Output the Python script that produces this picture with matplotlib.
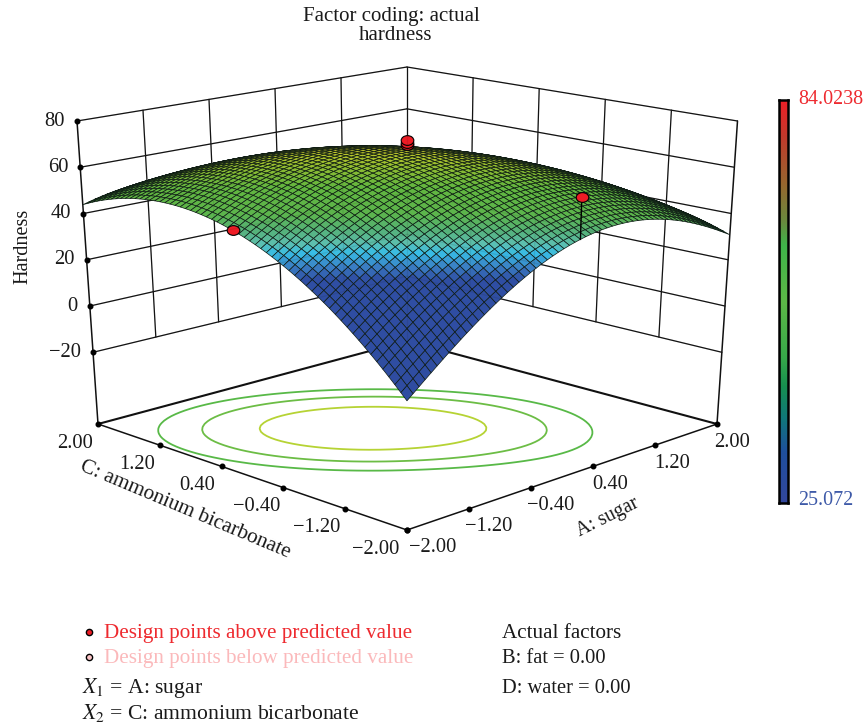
import numpy as np
import matplotlib
matplotlib.use("Agg")
import matplotlib.pyplot as plt
from matplotlib.colors import LinearSegmentedColormap, Normalize
from matplotlib.markers import MarkerStyle
from matplotlib.transforms import Affine2D
from numpy.polynomial import polynomial as npoly

plt.rcParams['font.family'] = ['Liberation Serif', 'DejaVu Serif']
plt.rcParams['mathtext.fontset'] = 'stix'

# ---------- values ----------
factor_ticks = [-2.0, -1.2, -0.4, 0.4, 1.2, 2.0]
factor_tick_labels = ['\u22122.00', '\u22121.20', '\u22120.40', '0.40', '1.20', '2.00']
z_ticks = [-20, 0, 20, 40, 60, 80]
z_tick_labels = ['\u221220', '0', '20', '40', '60', '80']
z_floor = -51
z_top = 80

# hardness read at A (rows) and C (columns) = -2, -1, 0, 1, 2
read_levels = [-2, -1, 0, 1, 2]
read_heights = [
    [0.1, 31.0, 48.6, 53.1, 44.3],
    [28.5, 52.8, 64.7, 63.3, 48.8],
    [45.3, 61.6, 67.5, 60.4, 40.0],
    [45.8, 57.1, 57.3, 44.2, 18.1],
    [31.9, 39.5, 33.8, 15.0, -17.1],
]
contour_levels = [54.1, 59.2, 64.2]
contour_colors = ['#58b947', '#6cbd45', '#b6d334']

design_A = [-2.0, 0.0, 0.0, 0.0, 0.0]
design_C = [0.0, 0.0, 0.0, 0.0, -2.0]
design_hardness = [48.9, 69.0, 70.0, 71.0, 62.0]

# surface colour bands, by height on the page (pixels from the top)
band_y = [140, 150, 168, 190, 218, 236, 248, 258, 272, 285, 540]
band_colors = ['#dcd42a', '#cccb2a', '#93bc30', '#62b63f', '#5cb54c', '#55b27c', '#5dbfae',
               '#38bde6', '#3a7fc4', '#2f4ea3', '#2e4a9e']
bar_stops = [0, .125, .21, .29, .36, .5, .64, .70, .79, .91, 1]
bar_colors = ['#33479c', '#1f4f9e', '#10787a', '#179050', '#37a94a', '#5db947',
              '#3fb54a', '#6a8a3e', '#96682f', '#c23a2c', '#ee2027']
bar_max, bar_min = '84.0238', '25.072'

# where known box points sit on the page: (A, C, z) -> (x px, y px)
box_world = [(-2, 2, -51), (-2, -2, -51), (2, -2, -51), (2, 2, -51),
             (-2, 2, 80), (2, 2, 80), (2, -2, 80), (-2, 2, -20), (2, -2, -20),
             (2, 2, 60), (-2, 2, 40), (-2, 2, 0), (2, -2, 40)]
box_page = [(98, 424), (407, 530), (717, 424), (407, 341),
            (77, 121), (407, 67), (737.5, 121), (93, 352), (721, 352),
            (407, 109), (83, 213), (89, 306), (731, 213)]
floor_left, floor_front, floor_right, floor_back = [np.array(p, float) for p in box_page[:4]]
top_left, top_back, top_right = [np.array(p, float) for p in box_page[4:7]]

# ---------- camera for the surface ----------
rows = []
for (X, Y, Z_), (u, v) in zip(box_world, box_page):
    v = 725 - v
    rows.append([X, Y, Z_, 1, 0, 0, 0, 0, -u * X, -u * Y, -u * Z_, -u])
    rows.append([0, 0, 0, 0, X, Y, Z_, 1, -v * X, -v * Y, -v * Z_, -v])
P = np.linalg.svd(np.asarray(rows, float))[2][-1].reshape(3, 4)
P = P / P[2, 3]


def page(x, y, z):
    h = np.tensordot(P, np.stack([x, y, z, np.ones_like(x)], axis=0), axes=(1, 0))
    return h[0] / h[2], h[1] / h[2]


fig = plt.figure(figsize=(8.65, 7.25), dpi=100)

# page-pixel axes below and above the surface: the box ticks are evenly spaced on the page
bg = fig.add_axes([0, 0, 1, 1], zorder=0)
fg = fig.add_axes([0, 0, 1, 1], zorder=2)
for a_ in (bg, fg):
    a_.set_xlim(0, 865)
    a_.set_ylim(725, 0)
    a_.set_axis_off()

ax = fig.add_axes([0, (725 - 865) / 2 / 725, 1, 865 / 725], projection='3d',
                  computed_zorder=False, zorder=1)
ax.set_axis_off()
ax.patch.set_visible(False)
ax.apply_aspect()
inv = ax.transData.inverted()
o = inv.transform((0, 0))
e = inv.transform((1, 1))
sx, sy = e - o
M = np.vstack([sx * P[0] + o[0] * P[2], sy * P[1] + o[1] * P[2], [0, 0, 0, -1], P[2]])
ax.get_proj = lambda: M
ax.M = M

# smooth surface mesh passing through the read heights
gA, gC = np.meshgrid(read_levels, read_levels, indexing='ij')
vand = npoly.polyvander2d(gA.ravel().astype(float), gC.ravel().astype(float), [4, 4])
coef = np.linalg.solve(vand, np.asarray(read_heights, float).ravel()).reshape(5, 5)
mesh = np.linspace(-2, 2, 61)
A, C = np.meshgrid(mesh, mesh, indexing='ij')
Z = npoly.polyval2d(A, C, coef)

_, py = page(A, C, Z)
s_norm = Normalize(band_y[0], band_y[-1])
s_cmap = LinearSegmentedColormap.from_list(
    's', [(s_norm(v), c) for v, c in zip(band_y, band_colors)], N=1024)
faces = s_cmap(s_norm(725 - py))


# ---------- box on the page ----------
def lerp(p, q, f):
    return p + (q - p) * f


def frac(t):
    return (t + 2) / 4


def zfrac(z):
    return (z - z_floor) / (z_top - z_floor)


def left_wall(a, z):
    return lerp(lerp(floor_left, floor_back, frac(a)), lerp(top_left, top_back, frac(a)), zfrac(z))


def right_wall(c, z):
    return lerp(lerp(floor_right, floor_back, frac(c)), lerp(top_right, top_back, frac(c)), zfrac(z))


def seg(axes, p, q, **kw):
    axes.plot([p[0], q[0]], [p[1], q[1]], solid_capstyle='round', **kw)


LC = '#111111'
for axes, kw in ((bg, dict(color=LC, lw=0.9)), (fg, dict(color='#222222', lw=0.9, alpha=0.12))):
    for t in factor_ticks[1:-1]:
        seg(axes, left_wall(t, -20), left_wall(t, z_top), **kw)
        seg(axes, right_wall(t, -20), right_wall(t, z_top), **kw)
    for z in z_ticks:
        seg(axes, left_wall(-2, z), left_wall(2, z), **kw)
        seg(axes, right_wall(-2, z), right_wall(2, z), **kw)
    seg(axes, floor_back, top_back, **kw)
seg(bg, floor_left, top_left, color=LC, lw=1.1)
seg(bg, floor_right, top_right, color=LC, lw=1.1)
seg(bg, floor_left, floor_back, color=LC, lw=1.5)
seg(bg, floor_right, floor_back, color=LC, lw=1.5)
seg(bg, floor_left, floor_front, color=LC, lw=1.1)
seg(bg, floor_right, floor_front, color=LC, lw=1.1)

ax.contour(A, C, Z, levels=contour_levels, zdir='z', offset=z_floor,
           colors=contour_colors, linewidths=1.3, zorder=2)

ax.plot_surface(A, C, Z, rstride=1, cstride=1, facecolors=faces, shade=False,
                edgecolor='#0d1a14', linewidth=0.5, antialiased=True, zorder=3)

# stems and design points
oval = MarkerStyle('o', transform=Affine2D().scale(1.3, 1.0))
for a, c, h in zip(design_A, design_C, design_hardness):
    base = float(npoly.polyval2d(a, c, coef))
    ax.plot([a, a], [c, c], [base, h], color='black', lw=1.0, zorder=4)
    ax.plot([a], [c], [h], ls='', marker=oval, ms=7, mfc='#ee1c25', mec='black',
            mew=0.8, zorder=5)

# tick dots and labels
tick_kw = dict(textcoords='offset pixels', fontsize=14.8, color='#1a1a1a', annotation_clip=False,
               va='center')
C_label_dx = [-8, -5, -3, -6, -5, -5]
A_label_dx = [2, -4, -4, -1, -1, -3]
for t, lab, cdx, adx in zip(factor_ticks, factor_tick_labels, C_label_dx, A_label_dx):
    pc = lerp(floor_front, floor_left, frac(t))
    pa = lerp(floor_front, floor_right, frac(t))
    bg.plot(*pc, marker='o', ms=3.3, color='black')
    bg.plot(*pa, marker='o', ms=3.3, color='black')
    bg.annotate(lab, pc, xytext=(cdx, -19), ha='right', **tick_kw)
    bg.annotate(lab, pa, xytext=(adx, -18), ha='left', **tick_kw)
for z, lab in zip(z_ticks, z_tick_labels):
    p = left_wall(-2, z)
    bg.plot(*p, marker='o', ms=3.3, color='black')
    bg.annotate(lab, p, xytext=(-12, 0), ha='right', **tick_kw)


def label(x, y, s, size=15.2, color='#1a1a1a', ha='left', rot=0, **kw):
    fig.text(x / 865, 1 - y / 725, s, fontsize=size, color=color, ha=ha, va='center',
             rotation=rot, rotation_mode='anchor', **kw)


label(391, 16.5, 'Factor coding: actual', size=15, ha='center')
label(396, 35, 'hardness', size=15, ha='center')
label(23, 246, 'Hardness', size=14.6, ha='center', rot=90)
label(185, 510, 'C: ammonium bicarbonate', size=15.3, ha='center', rot=-22.8)
label(608, 517, 'A: sugar', size=14.1, ha='center', rot=26.6)

label(104, 633.5, 'Design points above predicted value', color='#ee2a2f')
label(104, 659, 'Design points below predicted value', color='#fbb9bb')
label(82, 688, r'$X_1$ = A: sugar', size=15.6)
label(82, 713.5, r'$X_2$ = C: ammonium bicarbonate', size=15.6)
label(502, 633.5, 'Actual factors')
label(502, 658.5, 'B: fat = 0.00', size=14.8)
label(502, 688.5, 'D: water = 0.00', size=14.8)

for yy, col in [(632, '#ee1c25'), (657, '#fbc4c6')]:
    fig.add_artist(plt.Line2D([89 / 865], [1 - yy / 725], marker='o', ms=4.5, mfc=col,
                              mec='black', mew=1.0, ls='', transform=fig.transFigure))

# colour bar
cax = fig.add_axes([778.5 / 865, 1 - 503 / 725, 9.5 / 865, 403 / 725], zorder=3)
b_cmap = LinearSegmentedColormap.from_list('b', list(zip(bar_stops, bar_colors)))
cax.imshow(np.linspace(1, 0, 256).reshape(-1, 1), cmap=b_cmap, aspect='auto', vmin=0, vmax=1)
cax.set_xticks([])
cax.set_yticks([])
for sp in cax.spines.values():
    sp.set_linewidth(1.8)
label(798, 99, bar_max, size=14.4, color='#ee2a2f')
label(798, 500.5, bar_min, size=14.4, color='#3e5aa8')

fig.savefig('out.png', dpi=100)
